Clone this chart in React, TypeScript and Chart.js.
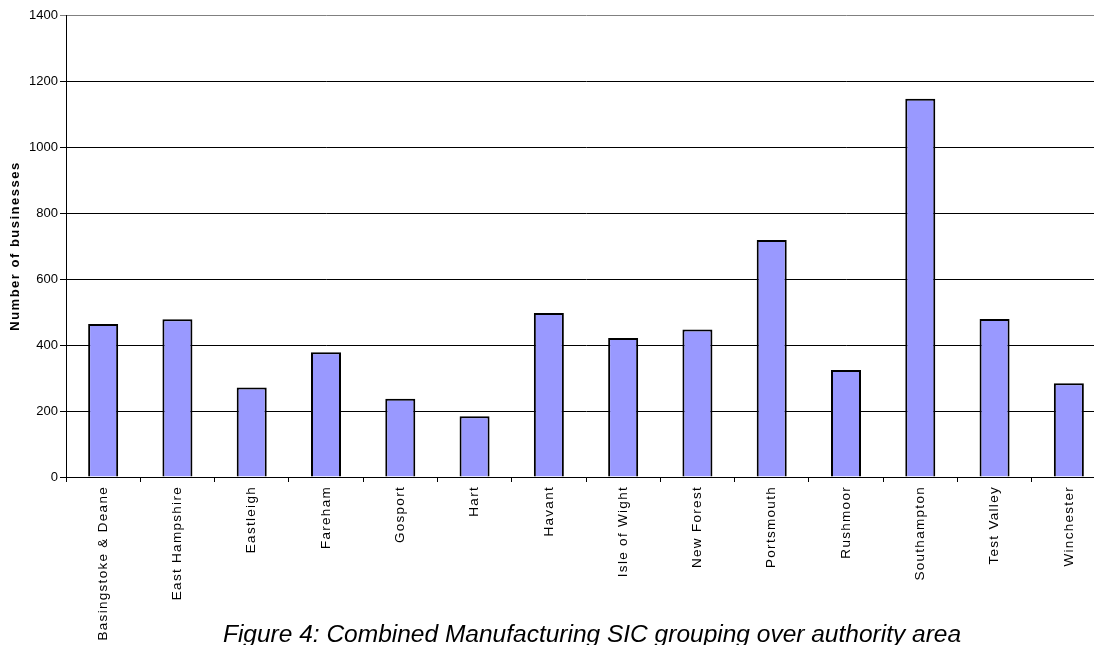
import React, { useEffect, useRef } from "react";
import { Chart, registerables } from "chart.js";

Chart.register(...registerables);

const categories: string[] = [
  "Basingstoke & Deane",
  "East Hampshire",
  "Eastleigh",
  "Fareham",
  "Gosport",
  "Hart",
  "Havant",
  "Isle of Wight",
  "New Forest",
  "Portsmouth",
  "Rushmoor",
  "Southampton",
  "Test Valley",
  "Winchester",
];

const businesses: number[] = [464, 478, 271, 378, 237, 184, 497, 421, 447, 718, 324, 1146, 479, 284];

const yMin = 0;
const yMax = 1400;
const yStep = 200;

const yTitle = "Number of businesses";
const caption = "Figure 4: Combined Manufacturing SIC grouping over authority area";

const FONT = "'Liberation Sans', Arial, sans-serif";

const spacingPlugin = {
  id: "letterSpacingPatch",
  beforeDraw(chart: any) {
    const x = chart.scales.x;
    const y = chart.scales.y;
    if (x && !x.__patched) {
      const orig = x.drawLabels.bind(x);
      x.drawLabels = (ca: any) => {
        const c = x.ctx;
        c.save();
        (c as any).letterSpacing = "1.3px";
        orig(ca);
        c.restore();
      };
      x.__patched = true;
    }
    if (y && !y.__patched) {
      const origT = y.drawTitle.bind(y);
      y.drawTitle = (ca: any) => {
        const c = y.ctx;
        c.save();
        (c as any).letterSpacing = "1.5px";
        origT(ca);
        c.restore();
      };
      y.__patched = true;
    }
  },
};

export default function App() {
  const ref = useRef<HTMLCanvasElement | null>(null);

  useEffect(() => {
    document.body.style.overflow = "hidden";
    const canvas = ref.current;
    if (!canvas) return;
    const chart = new Chart(canvas, {
      type: "bar",
      data: {
        labels: categories,
        datasets: [
          {
            data: businesses,
            backgroundColor: "#9999FF",
            borderColor: "#000000",
            borderWidth: 2,
            barPercentage: 0.404,
            categoryPercentage: 1,
          },
        ],
      },
      options: {
        responsive: false,
        animation: false,
        devicePixelRatio: 1,
        layout: { padding: { top: 15, right: 4, left: 0, bottom: 0 } },
        plugins: {
          legend: { display: false },
          tooltip: { enabled: false },
          title: { display: false },
        },
        scales: {
          x: {
            afterFit: (s: any) => {
              s.height = 168;
            },
            grid: {
              offset: true,
              drawOnChartArea: false,
              drawTicks: true,
              tickLength: 5,
              color: "#000000",
            },
            border: { color: "#000000", width: 1 },
            ticks: {
              autoSkip: false,
              maxRotation: 90,
              minRotation: 90,
              padding: 4,
              color: "#000000",
              font: { family: FONT, size: 13.5 },
            },
          },
          y: {
            min: yMin,
            max: yMax,
            afterFit: (s: any) => {
              s.width = 66;
            },
            ticks: {
              stepSize: yStep,
              padding: 2,
              color: "#000000",
              font: { family: FONT, size: 13 },
              callback: (v: any) => String(v),
            },
            grid: {
              color: (ctx: any) => (ctx.tick && ctx.tick.value === yMax ? "#808080" : "#000000"),
              lineWidth: 1,
              tickLength: 6,
            },
            border: { color: "#000000", width: 1 },
            title: {
              display: true,
              text: yTitle,
              color: "#000000",
              font: { family: FONT, size: 13, weight: "bold" },
              padding: { top: 8, bottom: 0 },
            },
          },
        },
      },
      plugins: [spacingPlugin],
    });
    return () => {
      chart.destroy();
    };
  }, []);

  return (
    <div
      style={{
        position: "fixed",
        left: 0,
        top: 0,
        width: 1094,
        height: 645,
        overflow: "hidden",
        background: "#ffffff",
      }}
    >
      <canvas ref={ref} width={1110} height={645} style={{ position: "absolute", left: 0, top: 0 }} />
      <div
        style={{
          position: "absolute",
          left: 0,
          top: 622,
          width: 1184,
          textAlign: "center",
          fontFamily: FONT,
          fontStyle: "italic",
          fontSize: 24.5,
          lineHeight: "24.5px",
          color: "#000000",
          whiteSpace: "nowrap",
        }}
      >
        {caption}
      </div>
    </div>
  );
}
